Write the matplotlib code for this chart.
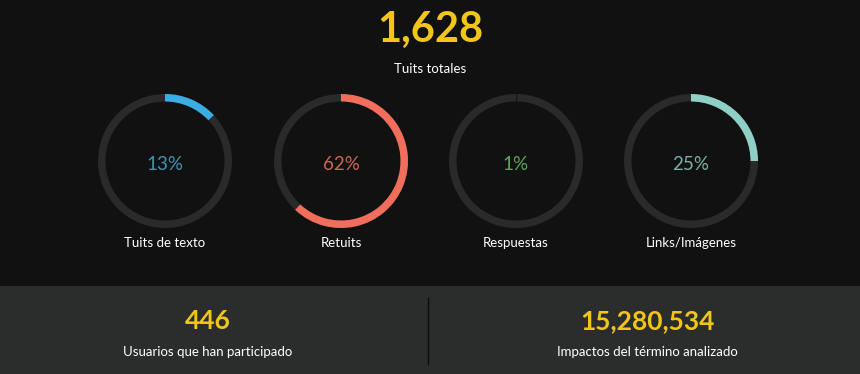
import matplotlib
matplotlib.use("Agg")
import matplotlib.pyplot as plt
from matplotlib.patches import Wedge, Rectangle

# data
total_tweets = "1,628"
total_label = "Tuits totales"
categories = ["Tuits de texto", "Retuits", "Respuestas", "Links/Imágenes"]
percents = [13, 62, 1, 25]
ring_colors = ["#3aaee2", "#f26e5c", "#161616", "#8fd0c6"]
text_colors = ["#4a9fc4", "#e0705e", "#62b862", "#86c2b8"]
stat_values = ["446", "15,280,534"]
stat_labels = ["Usuarios que han participado", "Impactos del término analizado"]

W, H = 860, 374
BG = "#111111"
PANEL = "#2b2c2c"
YELLOW = "#f2c618"
TRACK = "#2a2a2a"
FONT = ["Lato", "DejaVu Sans"]

fig = plt.figure(figsize=(W / 100, H / 100), dpi=100, facecolor=BG)
ax = fig.add_axes([0, 0, 1, 1])
ax.set_xlim(0, W)
ax.set_ylim(0, H)
ax.set_facecolor(BG)
ax.axis("off")


def Y(y):
    return H - y


# headline
ax.text(430, Y(30), total_tweets, color=YELLOW, fontsize=30, fontweight="bold",
        ha="center", va="center", family=FONT)
ax.text(430, Y(69), total_label, color="white", fontsize=9.5,
        ha="center", va="center", family=FONT)

# donuts
cx = [165, 341, 516, 691]
cy = Y(161)
r_out, ring_w = 67, 7.5
for x, p, rc, tc, lab in zip(cx, percents, ring_colors, text_colors, categories):
    ax.add_patch(Wedge((x, cy), r_out, 0, 360, width=ring_w, color=TRACK, lw=0))
    ax.add_patch(Wedge((x, cy), r_out, 90 - 360 * p / 100 * (0.3 if p < 2 else 1), 90,
                       width=ring_w, color=rc, lw=0))
    ax.text(x, Y(164), f"{p}%", color=tc, fontsize=13.5, fontweight="normal",
            ha="center", va="center", family=FONT, alpha=0.9)
    ax.text(x, Y(243), lab, color="white", fontsize=9.5,
            ha="center", va="center", family=FONT)

# bottom panel
ax.add_patch(Rectangle((0, 0), W, Y(286), color=PANEL, lw=0))
ax.plot([427.5, 427.5], [Y(298), Y(364)], color="#0c0c0c", lw=1)
sx = [208, 647]
for x, v, lab in zip(sx, stat_values, stat_labels):
    ax.text(x, Y(321), v, color=YELLOW, fontsize=19, fontweight="bold",
            ha="center", va="center", family=FONT)
    ax.text(x, Y(352), lab, color="white", fontsize=9.5,
            ha="center", va="center", family=FONT)

fig.savefig("out.png", dpi=100, facecolor=BG)
